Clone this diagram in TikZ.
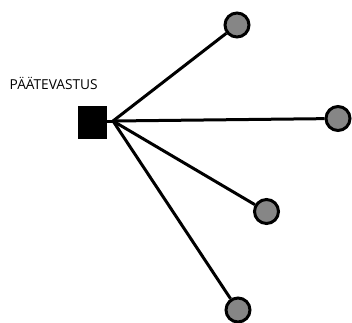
\documentclass[tikz,border=0pt]{standalone}
\usepackage{fontspec}
\setmainfont{Open Sans}
\begin{document}
\begin{tikzpicture}[x=1pt,y=-1pt,
  ball/.style={circle,draw=black,line width=3pt,fill=gray!95!white,minimum size=24pt,inner sep=0pt},
  wire/.style={line width=3pt},
  term/.style={fill=black,minimum width=29pt,minimum height=33pt,inner sep=0pt}]
\useasboundingbox (0,0) rectangle (352,322);
\node[term] (sq) at (92.5,122.5) {};
\coordinate (j) at (113,121);
\node[anchor=base west,font=\fontsize{13.7}{14}\selectfont,inner sep=0pt] (lbl) at (9.5,89) {PÄÄTEVASTUS};
\node[ball] (c1) at (237,25) {};
\node[ball] (c2) at (338,118.5) {};
\node[ball] (c3) at (266.5,211.5) {};
\node[ball] (c4) at (238,310) {};
\draw[wire] (sq.east |- j) -- (j);
\draw[wire] (j) -- (c1);
\draw[wire] (j) -- (c2);
\draw[wire] (j) -- (c3);
\draw[wire] (j) -- (c4);
\end{tikzpicture}
\end{document}
